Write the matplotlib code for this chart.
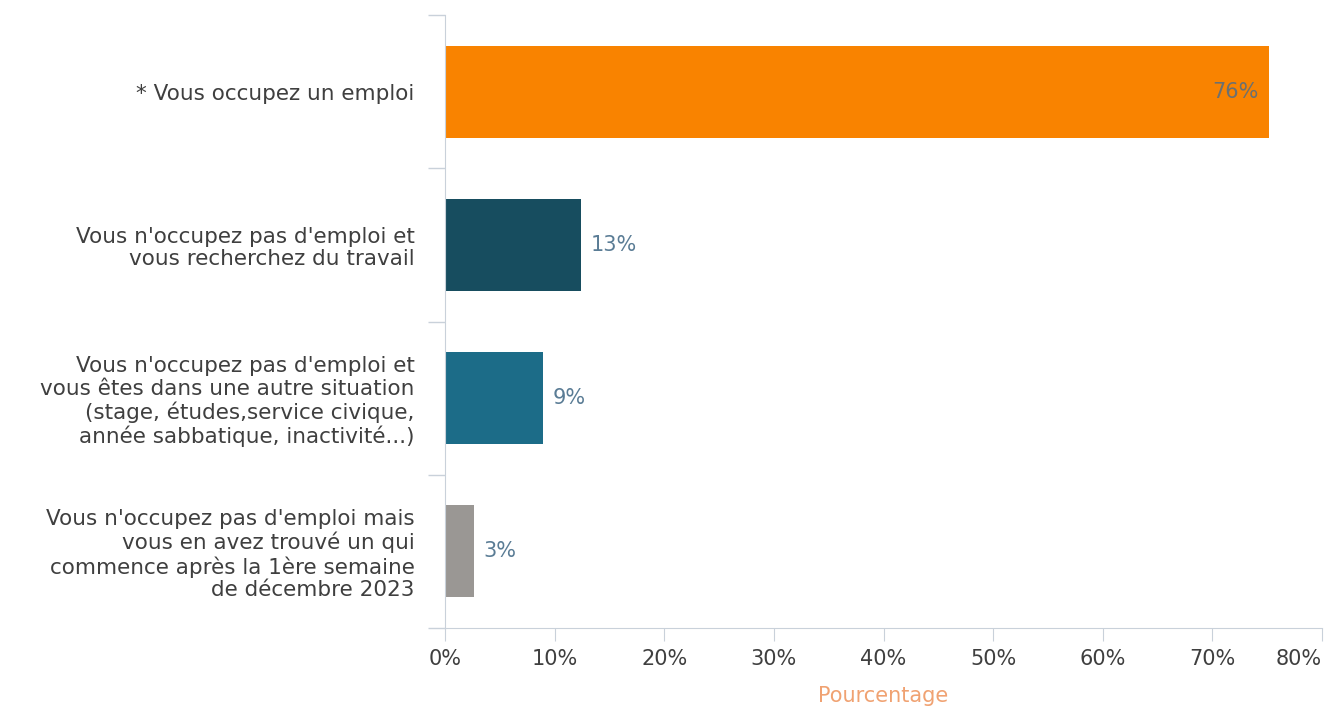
import matplotlib.pyplot as plt
from matplotlib.ticker import FixedLocator

# Données
categories = [
    "* Vous occupez un emploi",
    "Vous n'occupez pas d'emploi et\nvous recherchez du travail",
    "Vous n'occupez pas d'emploi et\nvous êtes dans une autre situation\n(stage, études,service civique,\nannée sabbatique, inactivité...)",
    "Vous n'occupez pas d'emploi mais\nvous en avez trouvé un qui\ncommence après la 1ère semaine\nde décembre 2023",
]
valeurs = [75.2, 12.4, 8.9, 2.6]
etiquettes = ["76%", "13%", "9%", "3%"]
couleurs = ["#F98300", "#174D5F", "#1C6C88", "#9A9794"]
xticks = [0, 10, 20, 30, 40, 50, 60, 70, 80]

plt.rcParams['font.family'] = ['DejaVu Sans']
texte = '#3f3f3f'
axe = '#c9d1da'

fig = plt.figure(figsize=(13.26, 7.08), dpi=100)
ax = fig.add_axes([445 / 1326, 80 / 708, 877 / 1326, 613 / 708])

y = list(range(len(categories)))
ax.barh(y, valeurs, height=0.6, color=couleurs)

# Étiquettes de valeurs
for i, (v, lab) in enumerate(zip(valeurs, etiquettes)):
    if v > 50:
        ax.text(v - 1.0, i, lab, ha='right', va='center', fontsize=15, color='#6c7070')
    else:
        ax.text(v + 0.9, i, lab, ha='left', va='center', fontsize=15, color='#5a7c95')

ax.set_xlim(0, 80)
ax.set_ylim(3.5, -0.5)

ax.set_xticks(xticks)
ax.set_xticklabels([f"{t}%" for t in xticks], fontsize=15, color=texte)
ax.get_xticklabels()[-1].set_ha('right')
ax.tick_params(axis='x', length=9, color=axe, pad=6)

ax.set_yticks(y)
ax.set_yticklabels(categories, fontsize=15.5, color=texte, linespacing=1.15)
ax.tick_params(axis='y', which='major', length=0, pad=22)
ax.yaxis.set_minor_locator(FixedLocator([-0.5, 0.5, 1.5, 2.5, 3.5]))
ax.tick_params(axis='y', which='minor', length=12, color=axe, width=1)

for s in ['top', 'right']:
    ax.spines[s].set_visible(False)
for s in ['left', 'bottom']:
    ax.spines[s].set_color(axe)

ax.set_xlabel('Pourcentage', fontsize=15, color='#f0a272', labelpad=12)

plt.savefig('out.png', dpi=100)
